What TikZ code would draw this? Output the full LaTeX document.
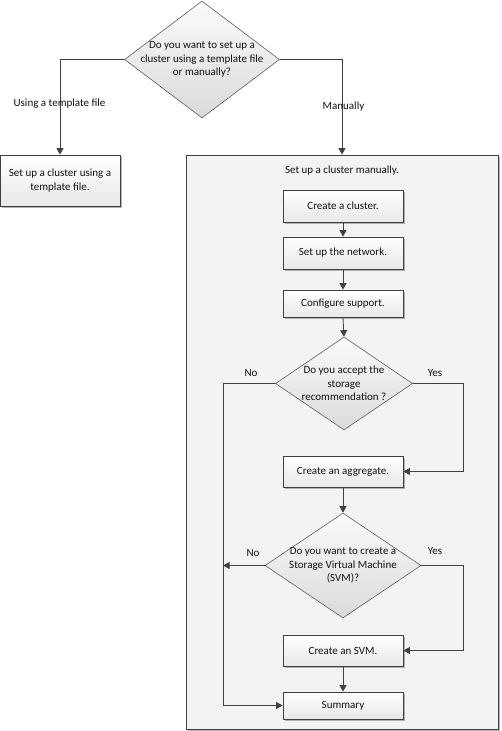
\documentclass[tikz,border=0pt]{standalone}
\usepackage{fontspec}
\setmainfont{Carlito}
\usetikzlibrary{shapes.geometric,arrows.meta,shadows}
\definecolor{edgecol}{HTML}{404040}
\definecolor{txtcol}{HTML}{111111}
\definecolor{dtop}{HTML}{FBFBFB}
\definecolor{dbot}{HTML}{DADADA}
\definecolor{btop}{HTML}{FFFFFF}
\definecolor{bbot}{HTML}{E8E8E8}
\definecolor{contfill}{HTML}{F3F3F3}
\definecolor{shadowcol}{HTML}{A0A0A0}
\begin{document}
\begin{tikzpicture}[x=1pt,y=-1pt,
  every node/.style={font=\fontsize{11}{13.5}\selectfont, text=txtcol},
  boxnode/.style={draw=edgecol, line width=0.8pt, rectangle, top color=btop, bottom color=bbot,
    minimum width=120pt, align=center, inner sep=0pt,
    drop shadow={shadow xshift=1.6pt, shadow yshift=-1.6pt, fill=shadowcol, opacity=0.8}},
  decnode/.style={draw=edgecol!85, line width=0.6pt, diamond, top color=dtop, bottom color=dbot,
    inner sep=0pt},
  dectext/.style={align=center, inner sep=0pt},
  contnode/.style={draw=edgecol, line width=0.8pt, rectangle, fill=contfill, inner sep=0pt,
    drop shadow={shadow xshift=1.6pt, shadow yshift=-1.6pt, fill=shadowcol, opacity=0.8}},
  conn/.style={draw=edgecol, line width=0.8pt},
  arrowconn/.style={conn, -{Triangle[length=6.5pt,width=7pt]}},
  lbl/.style={inner sep=0pt}
]
\useasboundingbox (0,0) rectangle (501,731);

% container
\node[contnode, minimum width=312pt, minimum height=574pt] (mbox) at (342,442) {};
\node[lbl] (mtitle) at (342,171) {Set up a cluster manually.};

% top decision
\node[decnode, minimum width=155pt, minimum height=117pt] (d1) at (202,59.5) {};
\node[dectext] (d1t) at (d1.center) {Do you want to set up a\\cluster using a template file\\or manually?};

% left box
\node[boxnode, minimum height=51pt] (tbox) at (60,180.5) {Set up a cluster using a\\template file.};

% steps
\node[boxnode, minimum height=32pt] (c1) at (343,206) {Create a cluster.};
\node[boxnode, minimum height=32pt] (c2) at (343,253) {Set up the network.};
\node[boxnode, minimum height=27pt] (c3) at (343,303.5) {Configure support.};
\node[decnode, minimum width=137pt, minimum height=93pt] (d2) at (344,383.5) {};
\node[dectext] (d2t) at (d2.center) {Do you accept the\\storage\\recommendation ?};
\node[boxnode, minimum height=31pt] (agg) at (343,471.5) {Create an aggregate.};
\node[decnode, minimum width=156pt, minimum height=105pt] (d3) at (343,565.5) {};
\node[dectext] (d3t) at (d3.center) {Do you want to create a\\Storage Virtual Machine\\(SVM)?};
\node[boxnode, minimum height=31pt] (svm) at (343,650.5) {Create an SVM.};
\node[boxnode, minimum height=27pt] (sum) at (343,705.5) {Summary};

% helper coordinates
\coordinate (nox) at (223,0);
\coordinate (yesx) at (463,0);

% connectors
\draw[arrowconn] (d1.west) -| (tbox.north);
\draw[arrowconn] (d1.east) -| (mbox.north);
\draw[arrowconn] (c1.south) -- (c2.north);
\draw[arrowconn] (c2.south) -- (c3.north);
\draw[arrowconn] (c3.south) -- (d2.north);
\draw[arrowconn] (d2.west) -- (d2.west -| nox) |- (sum.west);
\draw[arrowconn] (d2.east) -- (d2.east -| yesx) |- (agg.east);
\draw[arrowconn] (agg.south) -- (d3.north);
\draw[arrowconn] (d3.west) -- (d3.west -| nox);
\draw[arrowconn] (d3.east) -- (d3.east -| yesx) |- (svm.east);
\draw[arrowconn] (svm.south) -- (sum.north);

% labels
\node[lbl] (ltmpl) at (59.5,104) {Using a template file};
\node[lbl] (lman) at (343.5,107) {Manually};
\node[lbl] (lno1) at (251,373) {No};
\node[lbl] (lyes1) at (435,373) {Yes};
\node[lbl] (lno2) at (253,553) {No};
\node[lbl] (lyes2) at (435,551) {Yes};
\end{tikzpicture}
\end{document}
